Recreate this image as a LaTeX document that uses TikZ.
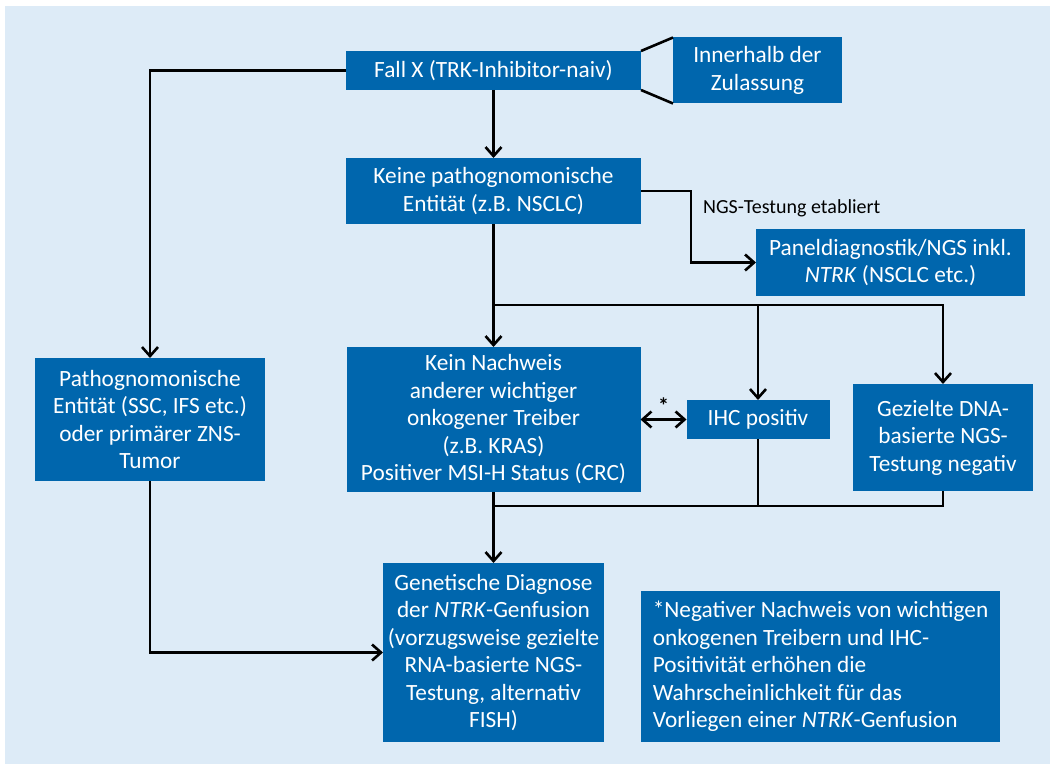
\documentclass[tikz,border=0pt]{standalone}
\usepackage{fontspec}
\setmainfont{Carlito}
\usetikzlibrary{arrows.meta, positioning}
\definecolor{boxblue}{HTML}{0066AD}
\definecolor{paleblue}{HTML}{DDEBF7}
\tikzstyle{bluebox} = [rectangle, fill=boxblue, text=white, align=center,
inner sep=0pt, outer sep=0pt, font=\fontsize{23.3}{27.5}\selectfont]
\tikzstyle{lbl} = [inner sep=0pt, font=\fontsize{20}{22}\selectfont]
\tikzstyle{link} = [line width=2.6pt]
\tikzstyle{arrow} = [line width=2.6pt, -{Straight Barb[length=9pt,width=16pt]}]
\tikzstyle{twoway} = [line width=2.6pt, {Straight Barb[length=9pt,width=16pt]}-{Straight Barb[length=9pt,width=16pt]}]

\begin{document}
\begin{tikzpicture}[x=1pt, y=-1pt]
      \useasboundingbox (0,0) rectangle (1050,765);
      \fill[paleblue] (5,6) rectangle (1050,764);

      \node (fall) [bluebox, minimum width=295pt, minimum height=39pt] at (493.5,70.5)
      {Fall X (TRK-Inhibitor-naiv)};
      \node (zul) [bluebox, minimum width=169pt, minimum height=66pt, right=32pt of fall]
      {Innerhalb der \\ Zulassung};
      \node (keine) [bluebox, minimum width=295pt, minimum height=66pt, below=68pt of fall]
      {Keine pathognomonische \\ Entität (z.B. NSCLC)};
      \node (pan) [bluebox, minimum width=269pt, minimum height=67pt] at (890.5,262.5)
      {Paneldiagnostik/NGS inkl. \\ \textit{NTRK} (NSCLC etc.)};
      \node (kein) [bluebox, minimum width=294pt, minimum height=145pt, below=123pt of keine]
      {Kein Nachweis \\ anderer wichtiger \\ onkogener Treiber \\ (z.B. KRAS) \\ Positiver MSI-H Status (CRC)};
      \node (ihc) [bluebox, minimum width=143pt, minimum height=39pt, right=46pt of kein]
      {IHC positiv};
      \node (gez) [bluebox, minimum width=180pt, minimum height=107pt] at (943,437.5)
      {Gezielte DNA- \\ basierte NGS- \\ Testung negativ};
      \node (path) [bluebox, minimum width=230pt, minimum height=123pt] at (150,419.5)
      {Pathognomonische \\ Entität (SSC, IFS etc.) \\ oder primärer ZNS- \\ Tumor};
      \node (gen) [bluebox, minimum width=221pt, minimum height=179pt, below=71pt of kein]
      {Genetische Diagnose \\ der \textit{NTRK}-Genfusion \\ (vorzugsweise gezielte \\
        RNA-basierte NGS- \\ Testung, alternativ \\ FISH)};
      \node (note) [bluebox, align=left, minimum width=359pt, minimum height=151pt] at (820.5,666.5)
      {*Negativer Nachweis von wichtigen \\ onkogenen Treibern und IHC- \\ Positivität erhöhen die \\
        Wahrscheinlichkeit für das \\ Vorliegen einer \textit{NTRK}-Genfusion};

      \node (ngs) [lbl, anchor=west] at (703,208) {NGS-Testung etabliert};

      \coordinate (split) at (493.5,305);
      \coordinate (join) at (493.5,506);

      \draw [link] (fall.north east) -- (zul.north west);
      \draw [link] (fall.south east) -- (zul.south west);
      \draw [arrow] (fall.west) -| (path.north);
      \draw [arrow] (fall) -- (keine);
      \draw [arrow] (keine.east) -- ++(50,0) |- (pan.west);
      \draw [arrow] (keine) -- (kein);
      \draw [arrow] (split) -| (gez.north);
      \draw [arrow] (split -| ihc.north) -- (ihc.north);
      \draw [twoway] (kein.east |- ihc.west) -- (ihc.west)
      node [midway, above=5pt, lbl, font=\fontsize{22}{24}\bfseries] {*};
      \draw [link] (ihc.south) |- (join);
      \draw [link] (gez.south) |- (join);
      \draw [arrow] (kein) -- (gen);
      \draw [arrow] (path.south) |- (gen.west);
    \end{tikzpicture}
\end{document}
